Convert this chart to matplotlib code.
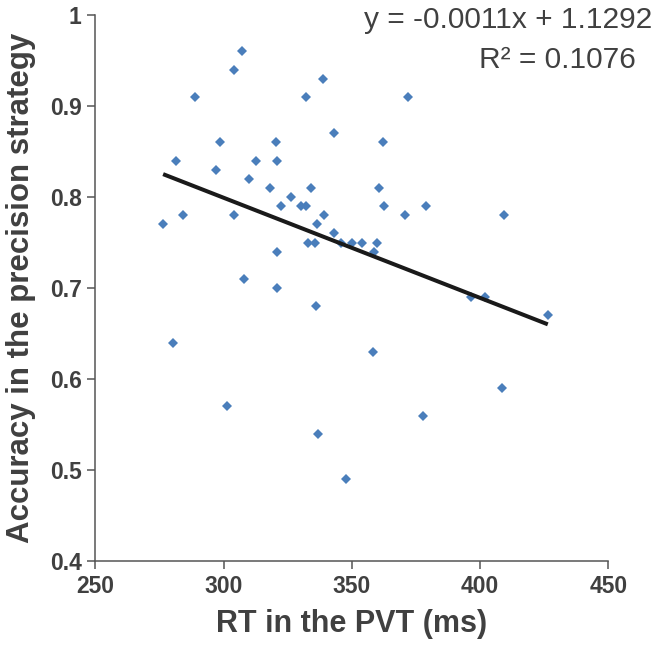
import matplotlib
matplotlib.use("Agg")
import matplotlib.pyplot as plt
import numpy as np

# reaction time in the PVT (ms) and accuracy in the precision strategy
rt = [276.4, 281.4, 284.2, 288.7, 304.0, 307.1, 298.7, 296.9, 312.6, 309.7,
      304.0, 318.1, 320.4, 320.9, 322.5, 326.2, 330.0, 332.1, 334.2, 332.0,
      338.7, 343.0, 339.1, 336.4, 343.0, 333.0, 335.5, 345.6, 349.9, 353.8,
      320.9, 308.0, 320.7, 359.7, 358.7, 371.9, 362.1, 360.7, 362.6, 379.0,
      370.8, 409.2, 335.9, 280.4, 358.1, 301.5, 336.9, 347.6, 377.6, 408.5,
      396.3, 401.9, 426.4]
acc = [0.77, 0.84, 0.78, 0.91, 0.94, 0.96, 0.86, 0.83, 0.84, 0.82,
       0.78, 0.81, 0.86, 0.84, 0.79, 0.80, 0.79, 0.79, 0.81, 0.91,
       0.93, 0.87, 0.78, 0.77, 0.76, 0.75, 0.75, 0.75, 0.75, 0.75,
       0.74, 0.71, 0.70, 0.75, 0.74, 0.91, 0.86, 0.81, 0.79, 0.79,
       0.78, 0.78, 0.68, 0.64, 0.63, 0.57, 0.54, 0.49, 0.56, 0.59,
       0.69, 0.69, 0.67]

slope = -0.0011
intercept = 1.1292
r2 = 0.1076

x_ticks = [250, 300, 350, 400, 450]
y_ticks = [0.4, 0.5, 0.6, 0.7, 0.8, 0.9, 1.0]
y_tick_labels = ["0.4", "0.5", "0.6", "0.7", "0.8", "0.9", "1"]

narrow = ["Liberation Sans Narrow", "Liberation Sans", "DejaVu Sans"]
plt.rcParams["font.family"] = ["Liberation Sans", "DejaVu Sans"]

grey = "#404040"

fig = plt.figure(figsize=(6.58, 6.51), dpi=100)
ax = fig.add_axes([0.145, 0.138, 0.7795, 0.839])

ax.plot(rt, acc, linestyle="none", marker="D", markersize=4.9,
        color="#4a7ebb", markeredgewidth=0)

xs = np.array([min(rt), max(rt)])
ax.plot(xs, slope * xs + intercept, color="#1a1a1a", linewidth=2.9,
        solid_capstyle="butt")

ax.set_xlim(250, 450)
ax.set_ylim(0.4, 1.0)
ax.set_xticks(x_ticks)
ax.set_yticks(y_ticks)
ax.set_xticklabels([str(t) for t in x_ticks])
ax.set_yticklabels(y_tick_labels)

for lab in ax.get_xticklabels() + ax.get_yticklabels():
    lab.set_family(narrow)
    lab.set_fontweight("bold")
    lab.set_fontsize(16.5)
    lab.set_color(grey)

ax.spines["top"].set_visible(False)
ax.spines["right"].set_visible(False)
for s in ("left", "bottom"):
    ax.spines[s].set_color("#555555")
    ax.spines[s].set_linewidth(1.1)
ax.tick_params(direction="out", length=6, width=1.1, color="#555555", pad=4)

ax.set_xlabel("RT in the PVT (ms)", fontsize=22, fontweight="bold",
              color=grey, labelpad=8)
ax.set_ylabel("Accuracy in the precision strategy", fontsize=22.5,
              fontweight="bold", color=grey, labelpad=10)

# trendline equation, placed like the Excel label
fig.text(0.991, 0.9565, "y = -0.0011x + 1.1292", ha="right", va="baseline",
         fontsize=21.5, color=grey)
fig.text(0.967, 0.895, "R² = %.4f" % r2, ha="right", va="baseline",
         fontsize=21.5, color=grey)

fig.savefig("out.png", dpi=100)
